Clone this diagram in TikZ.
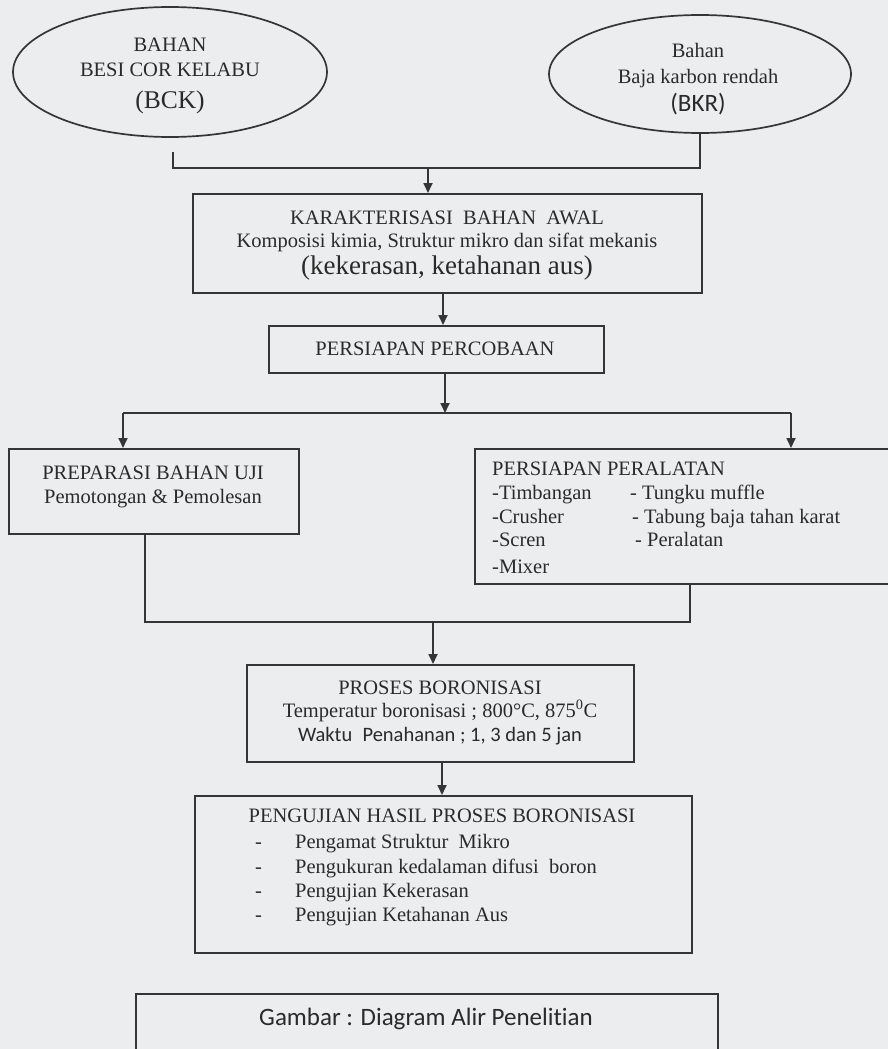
\documentclass[tikz,border=0pt]{standalone}
\usepackage{fontspec}
\setmainfont{Liberation Serif}
\newfontfamily\calib[Ligatures={NoCommon}]{Carlito}
\usetikzlibrary{shapes.geometric,arrows.meta}
\definecolor{bg}{HTML}{ECEDEF}
\definecolor{ink}{HTML}{353535}
\definecolor{txt}{HTML}{2A2A2A}
\begin{document}
\begin{tikzpicture}[x=1pt,y=-1pt,
  line/.style={draw=ink,line width=1.7pt},
  arr/.style={line,-{Triangle[length=10pt,width=9pt]}},
  box/.style={line,rectangle,inner sep=0pt,anchor=north west},
  oval/.style={line,ellipse,inner sep=0pt},
  t/.style={text=txt,inner sep=0pt,anchor=base,font=\fontsize{20.5}{24}\selectfont},
  tl/.style={t,anchor=base west},
  big/.style={font=\fontsize{25.5}{30}\selectfont},
  cal/.style={font=\calib\fontsize{20.5}{24}\selectfont},
  calbig/.style={font=\calib\fontsize{25}{30}\selectfont}
]
\useasboundingbox (0,0) rectangle (888,1049);
\clip (0,0) rectangle (888,1049);
\fill[bg] (0,0) rectangle (888,1049);

% shapes
\node[oval,minimum width=314pt,minimum height=130pt] (bck) at (170,72) {};
\node[oval,minimum width=302pt,minimum height=118pt] (bkr) at (700,74) {};
\node[box,minimum width=509pt,minimum height=99pt] (kar) at (192,193) {};
\node[box,minimum width=335pt,minimum height=47pt] (perc) at (268,325) {};
\node[box,minimum width=290pt,minimum height=85pt] (prep) at (8,448) {};
\node[box,minimum width=430pt,minimum height=135pt] (alat) at (474,448) {};
\node[box,minimum width=387pt,minimum height=97pt] (proses) at (246,664) {};
\node[box,minimum width=497pt,minimum height=157pt] (penguj) at (194,795) {};
\node[box,minimum width=582pt,minimum height=80pt] (gambar) at (135,993) {};

% texts
\node[t] (bck1) at (170,52) {BAHAN};
\node[t] (bck2) at (170,77) {BESI COR KELABU};
\node[t,big] (bck3) at (170,108) {(BCK)};
\node[t] (bkr1) at (698,57) {Bahan};
\node[t] (bkr2) at (698,83) {Baja karbon rendah};
\node[t,calbig] (bkr3) at (698,111) {(BKR)};

\node[t] (kar1) at (447,224) {KARAKTERISASI\hspace{.5em}BAHAN\hspace{.5em}AWAL};
\node[t] (kar2) at (447,247) {Komposisi kimia, Struktur mikro dan sifat mekanis};
\node[t,font=\fontsize{27}{30}\selectfont] (kar3) at (447,274) {(kekerasan, ketahanan aus)};

\node[t] (perc1) at (435,355) {PERSIAPAN PERCOBAAN};

\node[t] (prep1) at (153,479) {PREPARASI BAHAN UJI};
\node[t] (prep2) at (153,503) {Pemotongan \& Pemolesan};

\node[tl] (alat1) at (492,475) {PERSIAPAN PERALATAN};
\node[tl] (alat2) at (492,499) {-Timbangan};
\node[tl] (alat3) at (492,523) {-Crusher};
\node[tl] (alat4) at (492,546) {-Scren};
\node[tl] (alat5) at (492,573) {-Mixer};
\node[tl] (alat6) at (630,499) {- Tungku muffle};
\node[tl] (alat7) at (632,523) {- Tabung baja tahan karat};
\node[tl] (alat8) at (635,546) {- Peralatan};

\node[t] (pros1) at (440,694) {PROSES BORONISASI};
\node[t] (pros2) at (440,717) {Temperatur boronisasi ; 800°C, 875\textsuperscript{0}C};
\node[t,cal] (pros3) at (440,741) {Waktu\hspace{.5em}Penahanan ; 1, 3 dan 5 jan};

\node[t] (pen0) at (442,822) {PENGUJIAN HASIL PROSES BORONISASI};
\node[tl] (d1) at (255,848) {-};
\node[tl] (d2) at (255,873) {-};
\node[tl] (d3) at (255,897) {-};
\node[tl] (d4) at (255,921) {-};
\node[tl] (pen1) at (295,848) {Pengamat Struktur\hspace{.5em}Mikro};
\node[tl] (pen2) at (295,873) {Pengukuran kedalaman difusi\hspace{.5em}boron};
\node[tl] (pen3) at (295,897) {Pengujian Kekerasan};
\node[tl] (pen4) at (295,921) {Pengujian Ketahanan Aus};

\node[t,font=\calib\fontsize{25}{30}\selectfont] (gam1) at (426,1025) {Gambar : Diagram Alir Penelitian};

% connectors
\coordinate (bckfoot) at (173,152);
\coordinate (j1) at (428,168);
\draw[line] (bckfoot) |- (j1) -| (bkr.south);
\draw[arr] (j1) -- (j1 |- kar.north);

\coordinate (a2) at (443,300);
\draw[arr] (kar.south -| a2) -- (perc.north -| a2);

\coordinate (split) at (445,413);
\coordinate (sl) at (123,413);
\coordinate (sr) at (791,413);
\draw[arr] (perc.south -| split) -- (split);
\draw[line] (sl) -- (sr);
\draw[arr] (sl) -- (sl |- prep.north);
\draw[arr] (sr) -- (sr |- alat.north);

\coordinate (pl) at (145,622);
\coordinate (pr) at (690,622);
\coordinate (j2) at (433,622);
\draw[line] (pl |- prep.south) -- (pl) -- (pr) -- (pr |- alat.south);
\draw[arr] (j2) -- (j2 |- proses.north);

\coordinate (a5) at (442,770);
\draw[arr] (proses.south -| a5) -- (penguj.north -| a5);
\end{tikzpicture}
\end{document}
